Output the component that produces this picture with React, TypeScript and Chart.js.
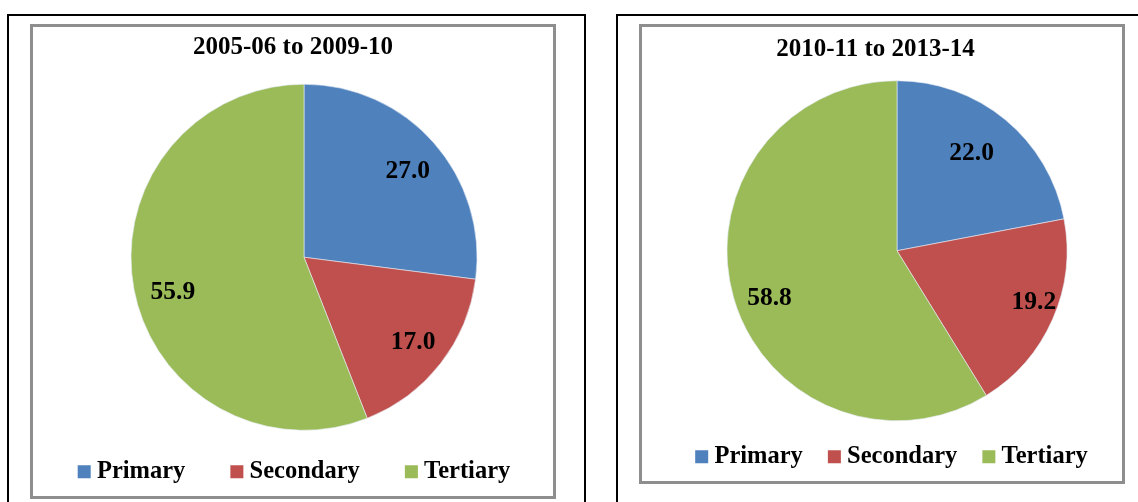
import React, { useEffect, useRef } from 'react';
import { Chart, registerables } from 'chart.js';

Chart.register(...registerables);

const categories = ['Primary', 'Secondary', 'Tertiary'];
const period1Values = [27.0, 17.0, 55.9];
const period2Values = [22.0, 19.2, 58.8];
const chartTitles = ['2005-06 to 2009-10', '2010-11 to 2013-14'];
const sliceColors = ['#4F81BD', '#C0504D', '#9BBB59'];

const FONT = "'Liberation Serif', 'Times New Roman', serif";

const boxShiftPlugin = {
  id: 'boxShift',
  afterLayout(chart: any, _args: any, opts: any) {
    const a = opts.area || 0;
    chart.chartArea.left += a;
    chart.chartArea.right += a;
    if (chart.titleBlock) {
      chart.titleBlock.left += opts.title || 0;
      chart.titleBlock.right += opts.title || 0;
    }
    if (chart.legend) {
      chart.legend.left += opts.legend || 0;
      chart.legend.right += opts.legend || 0;
    }
  },
};

const valueLabelPlugin = {
  id: 'valueLabels',
  afterDatasetsDraw(chart: any, _args: any, opts: any) {
    const ctx = chart.ctx;
    const meta = chart.getDatasetMeta(0);
    const values = chart.data.datasets[0].data;
    ctx.save();
    ctx.font = `bold 25.5px ${FONT}`;
    ctx.fillStyle = '#000';
    ctx.textAlign = 'center';
    ctx.textBaseline = 'middle';
    meta.data.forEach((arc: any, i: number) => {
      const { x, y, startAngle, endAngle, outerRadius } = arc.getProps(
        ['x', 'y', 'startAngle', 'endAngle', 'outerRadius'],
        true
      );
      const mid = (startAngle + endAngle) / 2 + ((opts.angle[i] || 0) * Math.PI) / 180;
      const f = opts.radial[i];
      ctx.fillText(
        Number(values[i]).toFixed(1),
        x + Math.cos(mid) * outerRadius * f,
        y + Math.sin(mid) * outerRadius * f
      );
    });
    ctx.restore();
  },
};

type PieProps = {
  title: string;
  values: number[];
  left: number;
  top: number;
  width: number;
  height: number;
  radius: number;
  legendPadding: number;
  titlePadding: { top: number; bottom: number };
  shift: { area: number; title: number; legend: number };
  radial: number[];
  angle: number[];
};

function PieChart(p: PieProps) {
  const ref = useRef<HTMLCanvasElement | null>(null);
  useEffect(() => {
    if (!ref.current) return;
    const chart = new Chart(ref.current, {
      type: 'pie',
      data: {
        labels: categories,
        datasets: [
          {
            data: p.values,
            backgroundColor: sliceColors,
            borderColor: 'rgba(230,236,245,0.6)',
            borderWidth: 1,
            radius: p.radius,
            clip: false,
          } as any,
        ],
      },
      options: {
        responsive: false,
        animation: false,
        events: [],
        layout: { padding: { top: 0, bottom: 2, left: 0, right: 0 } },
        plugins: {
          title: {
            display: true,
            text: p.title,
            color: '#000',
            font: { family: FONT, size: 25, weight: 'bold', lineHeight: 1.2 },
            padding: p.titlePadding,
          },
          legend: {
            display: true,
            position: 'bottom',
            labels: {
              usePointStyle: true,
              pointStyle: 'rect',
              boxWidth: 1,
              boxHeight: 13,
              padding: p.legendPadding,
              color: '#000',
              font: { family: FONT, size: 24.5, weight: 'bold' },
              generateLabels: (c: any) =>
                c.data.labels.map((l: string, i: number) => ({
                  text: l,
                  fillStyle: sliceColors[i],
                  strokeStyle: sliceColors[i],
                  lineWidth: 0,
                  pointStyle: 'rect',
                  hidden: false,
                  index: i,
                  fontColor: '#000',
                })),
            },
          },
          tooltip: { enabled: false },
          boxShift: p.shift,
          valueLabels: { radial: p.radial, angle: p.angle },
        } as any,
      },
      plugins: [boxShiftPlugin, valueLabelPlugin],
    });
    return () => chart.destroy();
  }, []);
  return (
    <canvas
      ref={ref}
      width={p.width}
      height={p.height}
      style={{ position: 'absolute', left: p.left, top: p.top, width: p.width, height: p.height }}
    />
  );
}

export default function App() {
  return (
    <div
      style={{
        position: 'absolute',
        left: 0,
        top: 0,
        width: 1138,
        height: 502,
        overflow: 'hidden',
        background: '#fff',
      }}
    >
      <div style={{ position: 'absolute', left: 7, top: 14, width: 579, height: 520, border: '2px solid #000', boxSizing: 'border-box' }} />
      <div style={{ position: 'absolute', left: 616, top: 14, width: 560, height: 520, border: '2px solid #000', boxSizing: 'border-box' }} />
      <div style={{ position: 'absolute', left: 30, top: 24, width: 526, height: 475, border: '3px solid #8e8e8e', boxSizing: 'border-box' }} />
      <div style={{ position: 'absolute', left: 639, top: 24, width: 486, height: 460, border: '3px solid #8e8e8e', boxSizing: 'border-box' }} />
      <PieChart
        title={chartTitles[0]}
        values={period1Values}
        left={3}
        top={27}
        width={580}
        height={469}
        radius={173}
        legendPadding={51}
        titlePadding={{ top: 6, bottom: 43 }}
        shift={{ area: 11, title: 0, legend: 4 }}
        radial={[0.78, 0.8, 0.785]}
        angle={[1.6, 0, -4.4]}
      />
      <PieChart
        title={chartTitles[1]}
        values={period2Values}
        left={642}
        top={27}
        width={480}
        height={454}
        radius={170}
        legendPadding={31}
        titlePadding={{ top: 7.5, bottom: 23.5 }}
        shift={{ area: 15, title: -6.5, legend: 12.5 }}
        radial={[0.72, 0.86, 0.8]}
        angle={[-2, -3.2, -4.5]}
      />
    </div>
  );
}
